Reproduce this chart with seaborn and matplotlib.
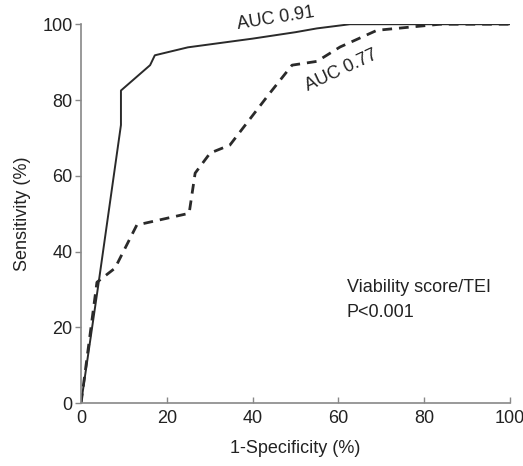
import matplotlib
matplotlib.use("Agg")
import matplotlib.pyplot as plt
import seaborn as sns
import pandas as pd

# Data
tei_x = [0, 4, 9.3, 9.3, 16.1, 17.2, 24.9, 40, 50, 55, 62.7, 100]
tei_y = [0, 31, 73.4, 82.5, 89.2, 91.8, 93.9, 96.2, 97.9, 98.9, 100, 100]

vs_x = [0, 3.7, 7.9, 13.0, 25.2, 26.6, 30.1, 34.7, 44, 49.2, 55, 60.4, 69, 83.7, 100]
vs_y = [0, 31.9, 35.6, 47.0, 50.1, 60.7, 66, 68.1, 81.8, 89.2, 90.2, 94, 98.4, 100, 100]

x_ticks = [0, 20, 40, 60, 80, 100]
y_ticks = [0, 20, 40, 60, 80, 100]

sns.set_style("white")
plt.rcParams['font.family'] = ['Liberation Sans', 'DejaVu Sans']

df1 = pd.DataFrame({"x": tei_x, "y": tei_y})
df2 = pd.DataFrame({"x": vs_x, "y": vs_y})

fig = plt.figure(figsize=(5.23, 4.66), dpi=100)
ax = fig.add_axes([0.155, 0.135, 0.82, 0.813])

sns.lineplot(data=df1, x="x", y="y", sort=False, estimator=None, ax=ax,
             color="#2a2a2a", lw=1.4)
sns.lineplot(data=df2, x="x", y="y", sort=False, estimator=None, ax=ax,
             color="#2a2a2a", lw=2.0, linestyle=(0, (3.5, 2.5)))

ax.set_xlim(0, 100)
ax.set_ylim(0, 100)
ax.set_xticks(x_ticks)
ax.set_yticks(y_ticks)
ax.tick_params(axis="y", left=True, direction="out", length=4, width=1, color="#888888",
               labelsize=13, labelcolor="#222222", pad=2)
ax.tick_params(axis="x", bottom=True, direction="in", length=4, width=1, color="#888888",
               labelsize=13, labelcolor="#222222", pad=5)
for s in ["top", "right"]:
    ax.spines[s].set_visible(False)
for s in ["left", "bottom"]:
    ax.spines[s].set_color("#888888")
    ax.spines[s].set_linewidth(1.2)

ax.set_xlabel("1-Specificity (%)", fontsize=13, color="#222222", labelpad=9)
ax.set_ylabel("Sensitivity (%)", fontsize=13, color="#222222", labelpad=8)

ax.text(45.3, 101.4, "AUC 0.91", rotation=9, fontsize=13, ha="center", va="center",
        color="#222222", clip_on=False)
ax.text(60.6, 87.9, "AUC 0.77", rotation=25, fontsize=13, ha="center", va="center",
        color="#222222")
ax.text(62, 30.6, "Viability score/TEI", fontsize=13, ha="left", va="center",
        color="#222222")
ax.text(62, 24.0, "P<0.001", fontsize=13, ha="left", va="center",
        color="#222222")

fig.savefig("out.png", dpi=100)
